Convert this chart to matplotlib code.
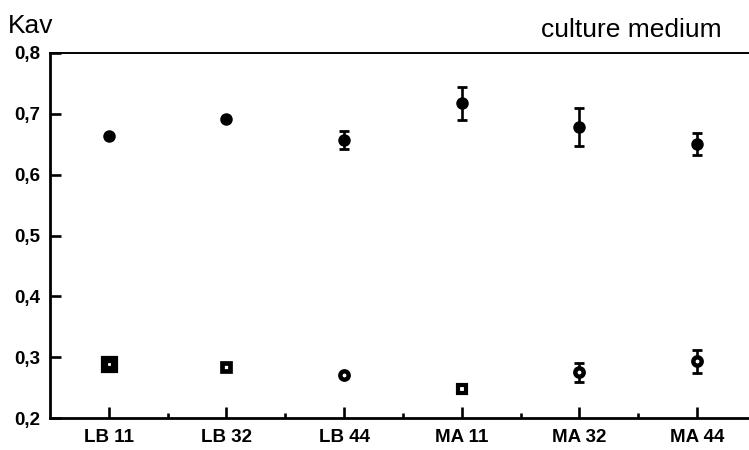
import matplotlib
matplotlib.use("Agg")
from matplotlib import pyplot as plt
from matplotlib import ticker

# Data
categories = ["LB 11", "LB 32", "LB 44", "MA 11", "MA 32", "MA 44"]
upper_mean = [0.663, 0.692, 0.657, 0.717, 0.678, 0.651]
upper_err = [0.0, 0.0, 0.015, 0.027, 0.031, 0.018]
lower_mean = [0.288, 0.284, 0.270, 0.248, 0.275, 0.293]
lower_err = [0.0, 0.0, 0.0, 0.0, 0.015, 0.019]
y_ticks = [0.2, 0.3, 0.4, 0.5, 0.6, 0.7, 0.8]

# Marker look for the open points: (marker, size, edge width)
lower_style = [("s", 6.8, 5.2), ("s", 5.5, 3.4), ("o", 6.0, 3.2),
               ("s", 5.3, 3.0), ("o", 6.0, 3.2), ("o", 6.0, 3.2)]

plt.rcParams["font.family"] = ["Liberation Sans", "DejaVu Sans"]

fig = plt.figure(figsize=(7.49, 4.5), dpi=100)
ax = fig.add_axes([50 / 749, 32 / 450, 700 / 749, 365 / 450])

x = list(range(len(categories)))

# Filled points with error bars
ax.errorbar(x, upper_mean, yerr=upper_err, fmt="none", ecolor="black",
            elinewidth=1.9, capsize=3.4, capthick=2.0, zorder=2)
ax.plot(x, upper_mean, "o", color="black", markersize=9,
        markeredgewidth=0, zorder=3)

# Open points with error bars
ax.errorbar(x, lower_mean, yerr=lower_err, fmt="none", ecolor="black",
            elinewidth=1.9, capsize=3.4, capthick=2.0, zorder=2)
for xi, yi, (m, ms, mew) in zip(x, lower_mean, lower_style):
    ax.plot(xi, yi, marker=m, markersize=ms, markeredgewidth=mew,
            markerfacecolor="white", markeredgecolor="black",
            linestyle="none", zorder=3)

ax.set_xlim(-0.5, 5.45)
ax.set_ylim(0.2, 0.8)

ax.set_xticks(x)
ax.set_xticklabels(categories)
ax.xaxis.set_minor_locator(ticker.FixedLocator([i + 0.5 for i in x[:-1]]))
ax.set_yticks(y_ticks)
ax.yaxis.set_major_formatter(
    ticker.FuncFormatter(lambda v, p: ("%.1f" % v).replace(".", ",")))

ax.tick_params(axis="both", which="major", direction="in", length=8,
               width=1.9, labelsize=13.5)
ax.tick_params(axis="x", which="minor", direction="in", length=3.5,
               width=1.9)
ax.tick_params(axis="x", which="major", pad=8)
ax.tick_params(axis="y", which="major", pad=7)
for lbl in ax.get_xticklabels() + ax.get_yticklabels():
    lbl.set_fontweight("bold")

ax.spines["right"].set_visible(False)
ax.spines["left"].set_linewidth(2.0)
ax.spines["bottom"].set_linewidth(2.0)
ax.spines["top"].set_linewidth(1.4)

fig.text(8 / 749, 1 - 33 / 450, "Kav", fontsize=19, ha="left",
         va="baseline")
fig.text(722 / 749, 1 - 37 / 450, "culture medium", fontsize=19,
         ha="right", va="baseline")

fig.savefig("out.png", dpi=100)
